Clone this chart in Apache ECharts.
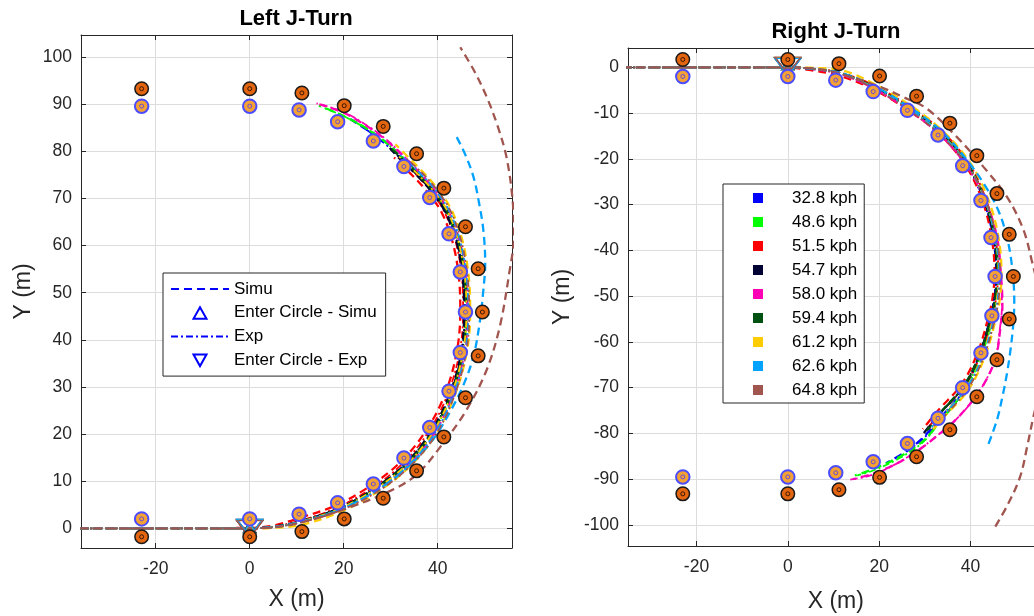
<!DOCTYPE html>
<html><head><meta charset="utf-8">
<script src="https://cdn.jsdelivr.net/npm/echarts@6/dist/echarts.min.js"></script>
<style>html,body{margin:0;padding:0;background:#fff}#c{width:1034px;height:616px}</style>
</head><body><div id="c"></div>
<script>
// ---------- categories ----------
const speeds = ['32.8 kph','48.6 kph','51.5 kph','54.7 kph','58.0 kph','59.4 kph','61.2 kph','62.6 kph','64.8 kph'];
const leftLegendNames = ['Simu','Enter Circle - Simu','Exp','Enter Circle - Exp'];
const titles = ['Left J-Turn','Right J-Turn'];
const xName = 'X (m)', yName = 'Y (m)';
// axis ranges
const leftXRange = [-35.9, 55.8], leftYRange = [-4.18, 104.7];
const rightXRange = [-35, 56], rightYRange = [-104.6, 4.22];
const xTickStep = 20, yTickStep = 10;

// ---------- cones (left turn) ----------
const leftOuterCones = [[-23,93.3],[0,93.3],[11.1,92.4],[20.1,89.7],[28.4,85.3],[35.5,79.5],[41.3,72.2],[45.9,64.0],[48.6,55.1],[49.5,45.9],[48.6,36.6],[45.9,27.7],[41.3,19.4],[35.5,12.2],[28.4,6.4],[20.1,2.0],[11.1,-0.7],[0,-1.8],[-23,-1.8]];
const leftInnerCones = [[-23,89.6],[0,89.6],[10.5,88.8],[18.7,86.3],[26.3,82.2],[32.8,76.8],[38.3,70.2],[42.4,62.5],[44.8,54.4],[45.9,45.9],[44.8,37.3],[42.4,29.1],[38.3,21.4],[32.8,14.9],[26.3,9.4],[18.7,5.4],[10.5,3.0],[0,2.0],[-23,2.0]];
// ---------- cones (right turn) ----------
const rightOuterCones = [[-23,1.7],[0,1.7],[11.2,0.8],[20.1,-1.9],[28.2,-6.3],[35.5,-12.2],[41.4,-19.3],[45.8,-27.6],[48.5,-36.5],[49.4,-45.7],[48.5,-55.0],[45.8,-63.9],[41.4,-72.0],[35.5,-79.2],[28.2,-85.1],[20.1,-89.6],[11.2,-92.3],[0,-93.2],[-23,-93.2]];
const rightInnerCones = [[-23,-2.0],[0,-2.0],[10.5,-2.8],[18.7,-5.3],[26.2,-9.4],[32.9,-14.8],[38.3,-21.5],[42.3,-29.1],[44.5,-37.2],[45.4,-45.7],[44.7,-54.3],[42.3,-62.4],[38.3,-70.0],[32.9,-76.7],[26.2,-82.2],[18.7,-86.2],[10.5,-88.6],[0,-89.5],[-23,-89.5]];

// ---------- enter-circle points (one per speed) ----------
const enterSimuLeft  = [[0,0.2],[0,0.1],[0,0.2],[0,0.0],[0,0.1],[0,0.2],[0,0.0],[0,0.1],[0,-0.9]];
const enterExpLeft   = [[0,-0.1],[0,0],[0,-0.1],[0,0.1],[0,0],[0,-0.1],[0,0],[0,0.1],[0,-0.2]];
const enterSimuRight = [[0,0.6],[0,0.5],[0,0.6],[0,0.4],[0,0.5],[0,0.6],[0,0.4],[0,0.5],[0,-0.6]];
const enterExpRight  = [[0,0.3],[0,0.2],[0,0.3],[0,0.1],[0,0.2],[0,0.3],[0,0.2],[0,0.1],[0,0.4]];

// ---------- Left J-Turn, simulation ----------
const LS328 = [[-36,0],[-20,0],[0,0],[5,0.3],[10.7,1.5],[18.7,4.1],[26.4,8.2],[32.9,13.2],[38.3,19.6],[42.4,27.4],[45.1,36.6],[46,45.6],[45.7,53.2],[44.4,60.6],[42,67.2],[38.9,71.8],[35.6,75.6],[32.4,78.8],[28.6,82.2],[24.6,84.8],[21.5,86.8]];
const LS486 = [[-36,0],[-20,0],[0,0],[5,0.3],[10.7,1.4],[18.7,4.0],[26.4,8.1],[32.9,13.1],[38.3,19.5],[42.4,27.3],[45.1,36.5],[45.9,45.6],[45.6,53.1],[44.3,60.6],[41.9,67.1],[38.7,71.8],[35.4,75.6],[32,79.2],[28.5,82.3],[24.8,84.9],[19.8,87.6],[14.7,89.7]];
const LS515 = [[-36,0],[-20,0],[0,0.1],[5,0.6],[10.6,2.2],[18.4,4.9],[25.8,9.1],[32.1,14.1],[37.3,20.4],[41.4,28.1],[44,37.2],[44.8,46],[44.5,53.3],[43.2,60.6],[40.8,67.1],[37.6,71.6],[34.5,75],[30.7,78.7]];
const LS547 = [[-36,0],[-20,0],[0,0],[5,0.3],[10.7,1.4],[18.7,4.1],[26.3,8.3],[32.8,13.4],[38.1,19.8],[42.2,27.6],[44.9,36.8],[45.6,45.8],[45.3,53.3],[44,60.7],[41.5,67.3],[38.3,71.9],[34.9,75.6],[32,78.4],[29.8,80.7]];
const LS580 = [[-36,0],[-20,0],[0,0],[5,0.3],[10.7,1.3],[18.7,3.8],[26.5,7.8],[33.1,12.8],[38.6,19.1],[42.7,27],[45.5,36.2],[46.3,45.3],[46,53],[44.7,60.5],[42.4,67],[39.3,71.8],[36,75.6],[32.6,79],[29,82.4],[25,85.3],[20,88.2],[14.8,90]];
const LS594 = [[-36,0],[-20,0],[0,0],[5,0.3],[10.7,1.4],[18.7,4.0],[26.4,8.2],[32.9,13.2],[38.3,19.5],[42.4,27.3],[45.2,36.5],[46.1,45.5],[45.8,53.1],[44.5,60.6],[42.1,67.1],[38.9,71.7],[35.6,75.3],[32.4,78.5],[30.2,80.5]];
const LS612 = [[-36,0],[-20,0],[0,0],[5,0.1],[10.8,0.7],[19,3.35],[26.8,7.5],[33.5,12.6],[39,19],[43.1,26.9],[46,36.45],[46.9,45.6],[46.6,53.3],[45.3,60.9],[42.9,67.6],[39.7,72.4],[36.2,76.3],[33,79.5],[31,81.5]];
const LS626 = [[-36,0],[-20,0],[0,0],[5,0.3],[10.7,1.3],[18.7,3.8],[26.5,7.7],[33.2,12.6],[38.8,18.6],[42.5,24.5],[45.5,30.5],[47.6,36.5],[48.9,43.5],[49.7,50.5],[50.1,56.3],[49.7,63.3],[48.8,69],[47.6,74.6],[45.9,79.2],[43.9,83.3]];
const LS648 = [[-36,0],[-20,0],[0,0],[5,0.2],[10,1.0],[20,4.0],[30,8.0],[35.5,11.4],[41.1,18],[46.1,25.1],[50.4,33.6],[53.2,42.8],[55.2,54.1],[56.2,62],[55.9,70],[54.6,78.9],[52.7,85.5],[50.4,91.6],[47.8,97],[44.8,102.1]];

// ---------- Left J-Turn, experiment ----------
const LE328 = [[-36,0],[-20,0.05],[0,0],[5,0.3],[10.7,1.5],[18.7,4.2],[26.3,8.3],[32.8,13.3],[38.2,19.6],[42.3,27.4],[45,36.6],[45.8,45.6],[45.5,53.2],[44.2,60.6],[41.8,67.2],[38.6,71.9],[35.3,75.5],[32.1,78.6],[28.3,82],[24.7,84.7]];
const LE486 = [[-36,0],[-20,-0.05],[0,0],[5,0.25],[10.7,1.35],[18.7,3.95],[26.45,8.05],[33,13.0],[38.4,19.4],[42.5,27.2],[45.25,36.4],[46.05,45.5],[45.75,53.1],[44.45,60.5],[42.05,67.1],[38.85,71.8],[35.55,75.5],[32.2,78.9],[28.7,82.1],[24.7,84.9],[19.7,87.6],[15.3,89.4]];
const LE515 = [[-36,0],[-20,0],[0,0],[5,0.35],[10.7,1.6],[18.6,4.4],[26.1,8.6],[32.5,13.7],[37.8,20.1],[41.9,27.9],[44.6,37.1],[45.4,46],[45.1,53.5],[43.8,60.9],[41.3,67.4],[38.1,72.1],[34.8,75.7],[31.6,78.7]];
const LE547 = [[-36,0],[-20,0],[0,0],[5,0.3],[10.7,1.45],[18.7,4.15],[26.3,8.25],[32.8,13.35],[38.2,19.7],[42.3,27.5],[45,36.7],[45.7,45.7],[45.4,53.3],[44.1,60.7],[41.6,67.3],[38.4,71.9],[35.1,75.5],[32.2,78.4],[30,80.4]];
const LE580 = [[-36,0],[-20,0],[0,0],[5,0.25],[10.7,1.25],[18.8,3.7],[26.6,7.7],[33.2,12.7],[38.7,19],[42.8,26.9],[45.6,36.1],[46.4,45.2],[46.1,52.9],[44.8,60.4],[42.5,67],[39.4,71.7],[36.1,75.6],[32.7,79.1],[29.1,82.5],[25.1,85.4],[19.8,88.4],[14.2,90.2]];
const LE594 = [[-36,0],[-20,0],[0,0],[5,0.3],[10.7,1.4],[18.7,4.05],[26.35,8.2],[32.85,13.25],[38.25,19.6],[42.35,27.4],[45.15,36.6],[46,45.6],[45.7,53.2],[44.4,60.6],[42,67.2],[38.8,71.8],[35.5,75.5],[32.5,78.5],[31,79.7]];
const LE612 = [[-36,0],[-20,0],[0,0],[5,0.3],[10.7,1.4],[18.7,4.0],[26.4,8.1],[32.95,13.1],[38.35,19.45],[42.45,27.25],[45.2,36.45],[46.1,45.5],[45.8,53.1],[44.5,60.5],[42.2,67.1],[39,71.7],[35.7,75.2],[32.8,78],[31.5,79.1]];
const LE626 = [[-36,0],[-20,0],[0,0],[5,0.25],[10.7,1.3],[18.8,3.8],[26.6,7.8],[33.2,12.8],[38.7,19.1],[42.8,26.9],[45.6,36.2],[46.5,45.3],[46.2,53],[44.9,60.5],[42.6,67.1],[39.5,71.8],[36.3,75.3],[33.2,78.2],[32,79.2]];
const LE648 = [[-36,0],[-20,0],[0,0],[5,0.2],[10.7,1.2],[18.8,3.6],[26.7,7.5],[33.4,12.5],[38.9,18.8],[43,26.7],[45.8,36],[46.7,45.2],[46.4,53],[45.1,60.6],[42.8,67.2],[39.7,72],[36.4,75.7],[33.2,78.6]];

// ---------- Right J-Turn, simulation ----------
const RS328 = [[-36,0],[-20,0],[0,0],[5,-0.3],[11.5,-1.35],[18.7,-4.3],[26.1,-8.7],[33.2,-14.2],[39.1,-21.1],[42.7,-28.4],[44.9,-36.4],[45.7,-45],[45.3,-50],[44.6,-53.8],[42.1,-62.7],[38.6,-70.2],[33.8,-76.2],[29.5,-81],[25.5,-84.2],[21.5,-86.5]];
const RS486 = [[-36,0],[-20,0],[0,0],[5,-0.3],[11.5,-1.3],[18.7,-4.2],[26.1,-8.6],[33.3,-14.1],[39.2,-21],[42.9,-28.3],[45.1,-36.3],[45.9,-45],[45.6,-50],[45,-54],[43.4,-60],[40.9,-66.5],[37.5,-72.2],[33.6,-77],[29.7,-81.6],[24.5,-85.1],[18.7,-87.8],[14.7,-89.2]];
const RS515 = [[-36,0],[-20,0],[0,-0.1],[5,-0.6],[11.35,-1.9],[18.45,-4.65],[25.8,-9],[33,-14.4],[38.8,-21.2],[42.35,-28.4],[44.5,-36.35],[45.3,-45],[44.9,-49.95],[44.2,-53.55],[41.65,-62.15],[38.1,-69.2],[33,-74.9],[29.55,-79.05]];
const RS547 = [[-36,0],[-20,0],[0,0],[5,-0.3],[11.5,-1.3],[18.7,-4.2],[26.1,-8.6],[33.3,-14.1],[39.2,-21],[42.8,-28.3],[45,-36.3],[45.8,-45],[45.4,-50],[44.7,-53.7],[42.1,-62.5],[38.5,-69.8],[33.3,-75.6],[29.5,-80.3]];
const RS580 = [[-36,0],[-20,0],[0,0],[5,-0.35],[11.5,-1.5],[18.7,-4.5],[26,-9],[33.2,-14.5],[39.2,-21.4],[43.2,-28.8],[45.8,-37],[46.7,-45.5],[47,-52],[46.6,-56.5],[45.6,-63.2],[43.3,-68.6],[40.4,-72.9],[36.9,-76.9],[33.1,-80.2],[29,-83.4],[25.8,-85.5],[22.2,-87.4],[18,-89],[14.3,-90]];
const RS594 = [[-36,0],[-20,0],[0,0],[5,-0.3],[11.5,-1.25],[18.7,-4.1],[26.2,-8.5],[33.4,-14],[39.3,-20.9],[42.9,-28.2],[45.1,-36.2],[45.9,-44.9],[45.5,-49.9],[44.8,-53.6],[42.2,-62.3],[38.6,-69.5],[33.6,-75.3],[30.4,-79.4]];
const RS612 = [[-36,0],[-20,0],[0,0],[5,-0.1],[11.65,-0.6],[18.95,-3.65],[26.5,-8.1],[33.8,-13.8],[39.9,-20.8],[43.65,-28.2],[46,-36.35],[46.8,-45.1],[46.5,-50.15],[45.8,-54],[43.25,-62.95],[39.6,-70.4],[34.5,-76.1],[31.45,-79.55]];
const RS626 = [[-36,0],[-20,0],[0,0],[5,-0.3],[11.5,-1.2],[18.7,-4.0],[26.2,-8.4],[33.5,-13.8],[39.5,-20.6],[43.6,-26.5],[46.2,-31.5],[47.7,-36],[48.7,-40.6],[49.4,-46.5],[49.6,-51],[49.4,-55.9],[48.8,-61.5],[48,-66.9],[47,-72],[45.8,-77.1],[43.6,-83.2]];
const RS648 = [[-36,0],[-20,0],[0,0],[5,-0.2],[10,-1.0],[20,-4.2],[25.5,-6.6],[30.4,-9.0],[37,-15.2],[42.8,-21.7],[48,-28.3],[51.6,-35.5],[53.4,-42.1],[55.2,-50],[56.3,-60],[55.8,-68],[53.8,-76.3],[52.5,-82.5],[50.9,-89.4],[48.2,-95.5],[45,-101.1]];

// ---------- Right J-Turn, experiment ----------
const RE328 = [[-36,0],[-20,0],[0,0],[5,-0.3],[11.5,-1.4],[18.6,-4.4],[26,-8.8],[33.1,-14.3],[39,-21.2],[42.6,-28.5],[44.8,-36.5],[45.6,-45.1],[45.2,-50.1],[44.5,-53.9],[42,-62.8],[38.6,-70.4],[34,-76.4],[29.8,-81],[26,-84]];
const RE486 = [[-36,0],[-20,0],[0,0],[5,-0.3],[11.5,-1.3],[18.7,-4.2],[26.1,-8.6],[33.3,-14.1],[39.2,-21],[42.9,-28.4],[45.1,-36.4],[45.9,-45.1],[45.6,-50.2],[44.9,-54.2],[43.2,-60.4],[40.7,-66.9],[37.3,-72.6],[33.4,-77.4],[29.5,-82],[24.3,-85.5],[18.7,-88.1],[15.2,-89.2]];
const RE515 = [[-36,0],[-20,0],[0,0],[5,-0.25],[11.5,-1.15],[18.8,-3.9],[26.3,-8.3],[33.6,-13.8],[39.5,-20.7],[43.1,-28],[45.3,-36.1],[46.1,-44.9],[45.7,-49.9],[45,-53.6],[42.4,-62.3],[38.8,-69.5],[33.7,-75.2],[30.5,-79]];
const RE547 = [[-36,0],[-20,0],[0,0],[5,-0.3],[11.5,-1.3],[18.7,-4.25],[26.1,-8.65],[33.25,-14.15],[39.15,-21.05],[42.75,-28.35],[44.95,-36.35],[45.75,-45.05],[45.35,-50.05],[44.65,-53.75],[42.05,-62.55],[38.45,-69.85],[33.3,-75.7],[29.9,-79.8]];
const RE580 = [[-36,0],[-20,0],[0,0],[5,-0.35],[11.5,-1.5],[18.7,-4.6],[26,-9.1],[33.1,-14.6],[39.1,-21.5],[43.1,-28.9],[45.7,-37.1],[46.6,-45.6],[46.9,-52.1],[46.5,-56.7],[45.5,-63.5],[43.1,-68.9],[40.2,-73.2],[36.6,-77.2],[32.7,-80.5],[28.5,-83.7],[24.5,-86.2],[20,-88.5],[16.5,-89.6],[13.6,-90.1]];
const RE594 = [[-36,0],[-20,0],[0,0],[5,-0.3],[11.5,-1.3],[18.7,-4.15],[26.15,-8.55],[33.35,-14.05],[39.25,-20.95],[42.85,-28.25],[45.05,-36.25],[45.85,-44.95],[45.45,-49.95],[44.75,-53.65],[42.15,-62.4],[38.55,-69.6],[33.5,-75.4],[30.8,-79.2]];
const RE612 = [[-36,0],[-20,0],[0,0],[5,-0.3],[11.5,-1.3],[18.7,-4.3],[26.1,-8.75],[33.3,-14.3],[39.3,-21.25],[43,-28.55],[45.3,-36.55],[46.15,-45.15],[45.85,-50.15],[45.15,-53.95],[42.7,-62.8],[39.1,-70],[34.3,-75.6],[31.5,-78.6]];
const RE626 = [[-36,0],[-20,0],[0,0],[5,-0.3],[11.5,-1.35],[18.7,-4.35],[26.1,-8.8],[33.3,-14.4],[39.3,-21.3],[43.1,-28.6],[45.3,-36.6],[46.3,-45.2],[46,-50.3],[45.3,-54.2],[42.8,-62.9],[39.2,-70],[34.2,-75.9],[31.5,-78.6]];
const RE648 = [[-36,0],[-20,0],[0,0],[5,-0.3],[11.5,-1.4],[18.7,-4.5],[26,-9],[33.2,-14.6],[39.4,-21.5],[43.3,-28.8],[45.6,-36.8],[46.5,-45.3],[46.2,-50.4],[45.5,-54.4],[43,-63.1],[39.4,-70.3],[34.5,-76],[32,-78.4]];

const leftSimu  = [LS328,LS486,LS515,LS547,LS580,LS594,LS612,LS626,LS648];
const leftExp   = [LE328,LE486,LE515,LE547,LE580,LE594,LE612,LE626,LE648];
const rightSimu = [RS328,RS486,RS515,RS547,RS580,RS594,RS612,RS626,RS648];
const rightExp  = [RE328,RE486,RE515,RE547,RE580,RE594,RE612,RE626,RE648];

// ---------- styles ----------
const colors = ['#0000ff','#00ff00','#ff0000','#000033','#ff00b4','#005212','#ffcc00','#00a2ff','#a0554e'];
const FONT = '"Liberation Sans", Arial, Helvetica, sans-serif';
const AX = '#262626';
const DASH = [8,5], DASHDOT = [7,3,2,3];
// legend icons: bounding box spans the full icon cell so the mark sits centred
const ICON_UP = 'path://M0,0M58,14M22.5,13L29,1.5L35.5,13Z';
const ICON_DOWN = 'path://M0,0M58,14M22.5,1.5L35.5,1.5L29,13Z';
const ICON_SQ = 'path://M0,0M58,10M24,0H34V10H24Z';

function lineSeries(name, data, color, simu, xi, yi) {
  return {type:'line', name, data, xAxisIndex:xi, yAxisIndex:yi, symbol:'none', showSymbol:false,
    smooth:0.35, color, clip:true, silent:true, z:2,
    lineStyle:{color, width: simu ? 2.3 : 1.8, type: simu ? DASH : DASHDOT}};
}
function coneSeries(name, data, fill, border, bw, dotBorder, xi, yi) {
  return [
    {type:'scatter', name, data, xAxisIndex:xi, yAxisIndex:yi, symbol:'circle', symbolSize:13.5, silent:true, z:4,
     itemStyle:{color:fill, borderColor:border, borderWidth:bw, opacity:1}},
    {type:'scatter', name:name+' c', data, xAxisIndex:xi, yAxisIndex:yi, symbol:'circle', symbolSize:4, silent:true, z:5,
     itemStyle:{color:fill, borderColor:dotBorder, borderWidth:1, opacity:1}}
  ];
}
function enterSeries(name, pts, up, xi, yi) {
  return {type:'scatter', name, xAxisIndex:xi, yAxisIndex:yi, symbol:'triangle', symbolRotate: up ? 0 : 180,
    symbolSize: up ? [12,10] : [26,17], silent:true, z:3,
    itemStyle:{color:'rgba(255,255,255,0)', borderColor:'#0000ff', borderWidth:1.3, opacity:1},
    data: pts.map((p,i)=>({value:p, itemStyle:{borderColor:colors[i]}}))};
}

function axes(gi, xr, yr, xNameGap, yNameGap) {
  const line = {show:true, onZero:false, lineStyle:{color:AX, width:1}};
  const tick = {show:true, inside:true, length:5, lineStyle:{color:AX, width:1}};
  const lab = {fontSize:17.5, color:AX, fontFamily:FONT, showMinLabel:false, showMaxLabel:false};
  const split = {show:true, lineStyle:{color:'#dcdcdc', width:1}};
  const nts = {fontSize:23, color:AX, fontFamily:FONT};
  const x = [
    {type:'value', gridIndex:gi, position:'bottom', min:xr[0], max:xr[1], minInterval:xTickStep, maxInterval:xTickStep,
     axisLine:line, axisTick:tick, axisLabel:Object.assign({margin:12}, lab), splitLine:split,
     name:xName, nameLocation:'middle', nameGap:xNameGap, nameTextStyle:nts, nameMoveOverlap:false},
    {type:'value', gridIndex:gi, position:'top', min:xr[0], max:xr[1], minInterval:xTickStep, maxInterval:xTickStep,
     axisLine:line, axisTick:tick, axisLabel:{show:false}, splitLine:{show:false}}
  ];
  const y = [
    {type:'value', gridIndex:gi, position:'left', min:yr[0], max:yr[1], minInterval:yTickStep, maxInterval:yTickStep,
     axisLine:line, axisTick:tick, axisLabel:Object.assign({margin:9}, lab), splitLine:split,
     name:yName, nameLocation:'middle', nameGap:yNameGap, nameTextStyle:nts, nameMoveOverlap:false},
    {type:'value', gridIndex:gi, position:'right', min:yr[0], max:yr[1], minInterval:yTickStep, maxInterval:yTickStep,
     axisLine:line, axisTick:tick, axisLabel:{show:false}, splitLine:{show:false}}
  ];
  return {x, y};
}

const aL = axes(0, leftXRange, leftYRange, 40, 46);
const aR = axes(1, rightXRange, rightYRange, 44, 54);

const series = [];
for (let i = 0; i < speeds.length; i++) {
  series.push(lineSeries('Simu', leftSimu[i], colors[i], true, 0, 0));
  series.push(lineSeries('Exp', leftExp[i], colors[i], false, 0, 0));
}
for (let i = 0; i < speeds.length; i++) {
  series.push(lineSeries(speeds[i], rightSimu[i], colors[i], true, 2, 2));
  series.push(lineSeries(speeds[i], rightExp[i], colors[i], false, 2, 2));
}
series.push(enterSeries('Enter Circle - Simu', enterSimuLeft, true, 0, 0));
series.push(enterSeries('Enter Circle - Exp', enterExpLeft, false, 0, 0));
series.push(enterSeries('Enter Circle - Simu', enterSimuRight, true, 2, 2));
series.push(enterSeries('Enter Circle - Exp', enterExpRight, false, 2, 2));
series.push(...coneSeries('Outer cones', leftOuterCones, '#e4650f', '#1a1a1a', 1.5, '#3a1800', 0, 0));
series.push(...coneSeries('Inner cones', leftInnerCones, '#f4a233', '#4c4cff', 2, '#6a4ad8', 0, 0));
series.push(...coneSeries('Outer cones R', rightOuterCones, '#e4650f', '#1a1a1a', 1.5, '#3a1800', 2, 2));
series.push(...coneSeries('Inner cones R', rightInnerCones, '#f4a233', '#4c4cff', 2, '#6a4ad8', 2, 2));

const option = {
  animation:false,
  backgroundColor:'#fff',
  textStyle:{fontFamily:FONT},
  title:[
    {text:titles[0], left:296, top:8, textAlign:'center', padding:0,
     textStyle:{fontSize:22, fontWeight:'bold', color:'#000', fontFamily:FONT}},
    {text:titles[1], left:836, top:21, textAlign:'center', padding:0,
     textStyle:{fontSize:22, fontWeight:'bold', color:'#000', fontFamily:FONT}}
  ],
  grid:[
    {left:81, top:35, width:431, height:513, containLabel:false, outerBoundsMode:'none'},
    {left:628, top:48, width:415.5, height:498, containLabel:false, outerBoundsMode:'none'}
  ],
  xAxis:[...aL.x, ...aR.x],
  yAxis:[...aL.y, ...aR.y],
  legend:[
    {data:[{name:leftLegendNames[0], itemStyle:{opacity:0}}, {name:leftLegendNames[1], icon:ICON_UP},
           {name:leftLegendNames[2], itemStyle:{opacity:0}}, {name:leftLegendNames[3], icon:ICON_DOWN}],
     orient:'vertical', left:163, top:273, padding:[7.5,9,7.5,7], itemWidth:58, itemHeight:14, itemGap:6.7,
     symbolRotate:0, symbolKeepAspect:true,
     selectedMode:false, backgroundColor:'#fff', borderColor:AX, borderWidth:1, borderRadius:0,
     textStyle:{fontSize:17, color:'#000', fontFamily:FONT}},
    {data:speeds.map(n=>({name:n, icon:ICON_SQ})),
     orient:'vertical', left:723, top:184, padding:[5.5,7,4.5,6], itemWidth:58, itemHeight:10, itemGap:7,
     symbolKeepAspect:true,
     selectedMode:false, backgroundColor:'#fff', borderColor:AX, borderWidth:1, borderRadius:0,
     textStyle:{fontSize:17, color:'#000', fontFamily:FONT}}
  ],
  series
};
const chart = echarts.init(document.getElementById('c'), null, {renderer:'canvas'});
chart.setOption(option);
</script></body></html>
